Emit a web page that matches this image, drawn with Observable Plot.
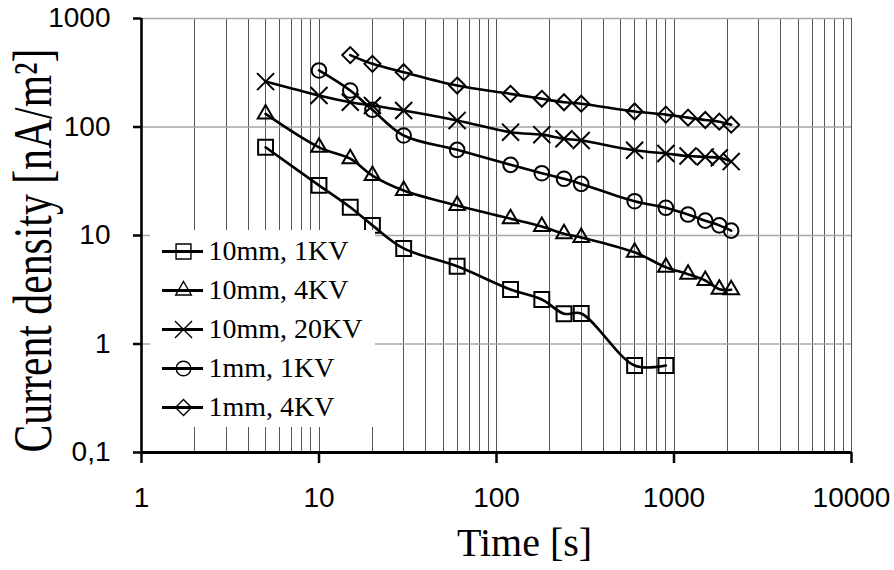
<!DOCTYPE html>
<html>
<head>
<meta charset="utf-8">
<script src="https://cdn.jsdelivr.net/npm/d3@7"></script>
<script src="https://cdn.jsdelivr.net/npm/@observablehq/plot@0.6"></script>
<style>
  html, body { margin: 0; padding: 0; background: #fff; }
  #chart { position: relative; width: 894px; height: 570px; }
  #legend { position: absolute; left: 150px; top: 230px; }
</style>
</head>
<body>
<div id="chart"><div id="legend"></div></div>
<script>
// ---- data ----
const seriesNames = ["10mm, 1KV", "10mm, 4KV", "10mm, 20KV", "1mm, 1KV", "1mm, 4KV"];
const seriesSymbols = ["square", "triangle", "times", "circle", "diamond2"];
const seriesRadius = [8.4, 5.8, 7.8, 7.3, 7.2];

const tA = [5, 10, 15, 20, 30, 60, 120, 180, 240, 300, 600, 900];
const vA = [65, 29, 18.2, 12.4, 7.6, 5.2, 3.18, 2.57, 1.9, 1.91, 0.634, 0.634];

const tB = [5, 10, 15, 20, 30, 60, 120, 180, 240, 300, 600, 900, 1200, 1500, 1800, 2100];
const vB = [132, 65, 51, 35.7, 26, 18.9, 14.3, 12.1, 10.4, 9.6, 7.0, 5.1, 4.4, 3.85, 3.2, 3.16];

const tC = [5, 10, 15, 20, 30, 60, 120, 180, 240, 300, 600, 900, 1200, 1500, 1800, 2100];
const vC = [262, 195, 169, 158, 142, 115, 89.6, 85, 78, 75, 61, 57, 54, 53, 52, 48];

const tD = [10, 15, 20, 30, 60, 120, 180, 240, 300, 600, 900, 1200, 1500, 1800, 2100];
const vD = [332, 217, 144, 83.5, 61.6, 44.8, 37.5, 33.3, 29.9, 20.7, 18.0, 15.6, 13.7, 12.4, 11.1];

const tE = [15, 20, 30, 60, 120, 180, 240, 300, 600, 900, 1200, 1500, 1800, 2100];
const vE = [460, 382, 320, 241, 202, 182, 169, 164, 139, 130, 122, 116, 112, 105];

const xTicks = [1, 10, 100, 1000, 10000];
const xTickLabels = ["1", "10", "100", "1000", "10000"];
const yTicks = [0.1, 1, 10, 100, 1000];
const yTickLabels = ["0,1", "1", "10", "100", "1000"];
const xTitle = "Time [s]";
const yTitle = "Current density [nA/m²]";

// ---- build ----
const seriesT = [tA, tB, tC, tD, tE];
const seriesV = [vA, vB, vC, vD, vE];
const series = seriesNames.map((name, i) => ({
  name, symbol: seriesSymbols[i], r: seriesRadius[i],
  data: seriesT[i].map((t, j) => ({t, v: seriesV[i][j]}))
}));

const xGrid = [];
for (let k = 0; k < 4; k++) for (let m = 1; m <= 9; m++) xGrid.push(m * Math.pow(10, k));
xGrid.push(10000);

const serif = "'Liberation Serif', 'Times New Roman', serif";
const sans = "'Liberation Sans', Arial, sans-serif";

const chart = Plot.plot({
  width: 894,
  height: 570,
  marginLeft: 141,
  marginRight: 43,
  marginTop: 18,
  marginBottom: 118,
  style: {fontFamily: sans, fontSize: "28px", color: "black", background: "white"},
  x: {type: "log", domain: [1, 10000]},
  y: {type: "log", domain: [0.1, 1000]},
  marks: [
    Plot.ruleX(xGrid, {stroke: "#555", strokeWidth: 1, shapeRendering: "crispEdges"}),
    Plot.ruleY(yTicks, {stroke: "#a6a6a6", strokeWidth: 1.3}),
    ...series.map(s => Plot.line(s.data, {x: "t", y: "v", curve: "catmull-rom", stroke: "black", strokeWidth: 2.6})),
    ...series.map(s => Plot.dot(s.data, {x: "t", y: "v", symbol: () => s.symbol, r: s.r, fill: "none", stroke: "black", strokeWidth: 2})),
    Plot.ruleX([1], {stroke: "black", strokeWidth: 2.6}),
    Plot.ruleY([0.1], {stroke: "black", strokeWidth: 3}),
    Plot.axisX({ticks: xTicks, tickFormat: d => xTickLabels[xTicks.indexOf(d)], tickSize: 11, tickPadding: 24, label: null, strokeWidth: 2.5, fontSize: 28, fontFamily: sans}),
    Plot.axisY({ticks: yTicks, tickFormat: d => yTickLabels[yTicks.indexOf(d)], tickSize: 8, tickPadding: 23, label: null, strokeWidth: 2.5, fontSize: 28, fontFamily: sans}),
    Plot.text([xTitle], {frameAnchor: "bottom", text: d => d, dx: 28, dy: 103, lineAnchor: "bottom", fontFamily: serif, fontSize: 40}),
    Plot.text([yTitle], {frameAnchor: "left", text: d => d, rotate: -90, dx: -91, dy: 15, lineAnchor: "bottom", textAnchor: "middle", fontFamily: serif, fontSize: 54})
  ]
});
document.getElementById("chart").prepend(chart);
chart.querySelectorAll("text").forEach(t => {
  if (t.textContent === yTitle) {
    const len = t.getComputedTextLength();
    const k = len > 0 ? 404 / len : 0.77;
    const tr = t.getAttribute("transform") || "";
    t.setAttribute("transform", (tr + ` scale(${k},1)`).trim());
  }
});

const legend = Plot.plot({
  width: 225,
  height: 197,
  margin: 0,
  style: {fontFamily: serif, fontSize: "28px", color: "black", background: "white"},
  x: {type: "linear", domain: [0, 225], range: [0, 225], axis: null},
  y: {type: "point", domain: seriesNames, range: [20, 177], padding: 0, axis: null},
  marks: [
    Plot.ruleY(series, {y: "name", x1: 12, x2: 53, stroke: "black", strokeWidth: 3}),
    ...series.map(s => Plot.dot([s], {x: 33, y: "name", symbol: () => s.symbol, r: s.r, fill: "none", stroke: "black", strokeWidth: 1.4})),
    Plot.text(series, {x: 58, y: "name", text: "name", textAnchor: "start", fill: "black", fontSize: 28, fontFamily: serif})
  ]
});
document.getElementById("legend").append(legend);
</script>
</body>
</html>
